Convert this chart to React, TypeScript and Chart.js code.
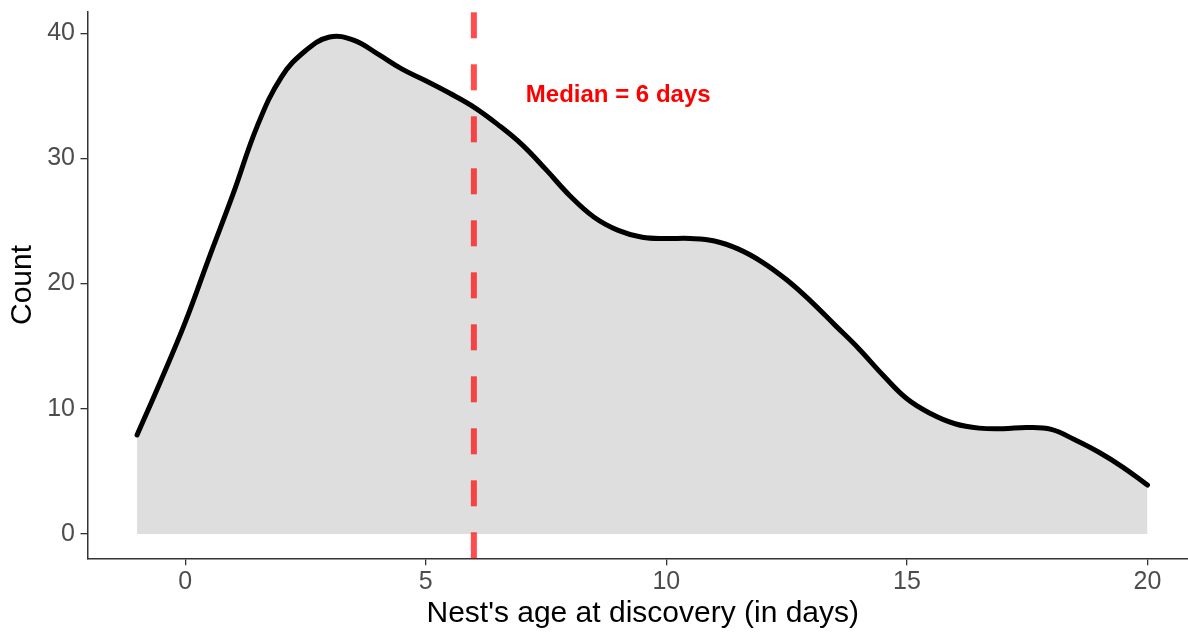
import { useEffect, useRef } from "react";
import { Chart, registerables } from "chart.js";

Chart.register(...registerables);

// Nest's age at discovery (days) and smoothed count
const ageDays = [
  -1, -0.5, 0, 0.5, 1, 1.5, 2, 2.5, 3, 3.5, 4, 4.5, 5, 5.5, 6, 6.5, 7, 7.5, 8, 8.5,
  9, 9.5, 10, 10.5, 11, 11.5, 12, 12.5, 13, 13.5, 14, 14.5, 15, 15.5, 16, 16.5, 17,
  17.5, 18, 18.5, 19, 19.5, 20,
];
const nestCount = [
  7.9, 12.3, 16.9, 22.1, 27.2, 32.6, 36.5, 38.6, 39.7, 39.45, 38.35, 37.15, 36.2, 35.2,
  34.1, 32.7, 31.1, 29.1, 27.0, 25.3, 24.25, 23.7, 23.6, 23.6, 23.4, 22.75, 21.7, 20.3,
  18.6, 16.7, 14.8, 12.7, 10.8, 9.6, 8.8, 8.45, 8.4, 8.5, 8.35, 7.5, 6.5, 5.3, 3.9,
];
const xTickValues = [0, 5, 10, 15, 20];
const yTickValues = [0, 10, 20, 30, 40];
const medianDay = [6];
const medianLabel = ["Median = 6 days"];
const medianLabelAt = [9, 35];
const xTitle = "Nest's age at discovery (in days)";
const yTitle = "Count";

const FONT = '"Liberation Sans", Arial, Helvetica, sans-serif';

export default function App() {
  const ref = useRef<HTMLCanvasElement>(null);

  useEffect(() => {
    const canvas = ref.current;
    if (!canvas) return;

    const medianPlugin = {
      id: "medianLine",
      afterDatasetsDraw(chart: any) {
        const { ctx, chartArea, scales } = chart;
        const x = scales.x.getPixelForValue(medianDay[0]);
        ctx.save();
        ctx.beginPath();
        ctx.setLineDash([26, 26]);
        ctx.lineCap = "butt";
        ctx.lineWidth = 6;
        ctx.strokeStyle = "rgba(255,0,0,0.7)";
        ctx.moveTo(x, chartArea.bottom);
        ctx.lineTo(x, chartArea.top);
        ctx.stroke();
        ctx.setLineDash([]);
        ctx.font = `bold 24px ${FONT}`;
        ctx.fillStyle = "#FF0000";
        ctx.textAlign = "center";
        ctx.textBaseline = "middle";
        ctx.fillText(
          medianLabel[0],
          scales.x.getPixelForValue(medianLabelAt[0]),
          scales.y.getPixelForValue(medianLabelAt[1])
        );
        ctx.restore();
      },
    };

    const chart = new Chart(canvas, {
      type: "line",
      data: {
        datasets: [
          {
            data: ageDays.map((x, i) => ({ x, y: nestCount[i] })),
            borderColor: "#000000",
            borderWidth: 5,
            backgroundColor: "#DEDEDE",
            fill: "origin",
            pointRadius: 0,
            tension: 0.4,
            borderCapStyle: "round",
            borderJoinStyle: "round",
          },
        ],
      },
      options: {
        responsive: false,
        animation: false,
        devicePixelRatio: 1,
        layout: { padding: { top: 11.7, right: 0, bottom: 0, left: 0 } },
        plugins: { legend: { display: false }, tooltip: { enabled: false } },
        scales: {
          x: {
            type: "linear",
            min: -2.03,
            max: 21.05,
            afterBuildTicks: (s: any) => {
              s.ticks = xTickValues.map((v) => ({ value: v }));
            },
            afterFit: (s: any) => {
              s.height = 78.7;
              s.paddingLeft = 0;
              s.paddingRight = 0;
            },
            grid: {
              display: true,
              drawOnChartArea: false,
              drawTicks: true,
              tickLength: 7,
              color: "#333333",
              lineWidth: 1.3,
            },
            border: { display: true, color: "#333333", width: 1.5 },
            ticks: {
              color: "#4D4D4D",
              font: { family: FONT, size: 25 },
              padding: 2,
              maxRotation: 0,
              autoSkip: false,
              callback: (v: any) => String(v),
            },
            title: {
              display: true,
              text: xTitle,
              color: "#000000",
              font: { family: FONT, size: 30 },
              padding: { top: 0, bottom: 5 },
            },
          },
          y: {
            type: "linear",
            min: -1.95,
            max: 41.72,
            afterBuildTicks: (s: any) => {
              s.ticks = yTickValues.map((v) => ({ value: v }));
            },
            afterFit: (s: any) => {
              s.width = 87.5;
              s.paddingTop = 0;
              s.paddingBottom = 0;
            },
            grid: {
              display: true,
              drawOnChartArea: false,
              drawTicks: true,
              tickLength: 7,
              color: "#333333",
              lineWidth: 1.3,
            },
            border: { display: true, color: "#333333", width: 1.5 },
            ticks: {
              color: "#4D4D4D",
              font: { family: FONT, size: 25 },
              padding: 5.5,
              autoSkip: false,
              callback: (v: any) => String(v),
            },
            title: {
              display: true,
              text: yTitle,
              color: "#000000",
              font: { family: FONT, size: 30 },
              padding: { top: 5, bottom: 0 },
            },
          },
        },
      },
      plugins: [medianPlugin],
    } as any);

    return () => chart.destroy();
  }, []);

  return (
    <div
      style={{
        position: "fixed",
        left: 0,
        top: 0,
        width: 1188,
        height: 637,
        overflow: "hidden",
        background: "#ffffff",
      }}
    >
      <canvas ref={ref} width={1198} height={637} style={{ display: "block" }} />
    </div>
  );
}
